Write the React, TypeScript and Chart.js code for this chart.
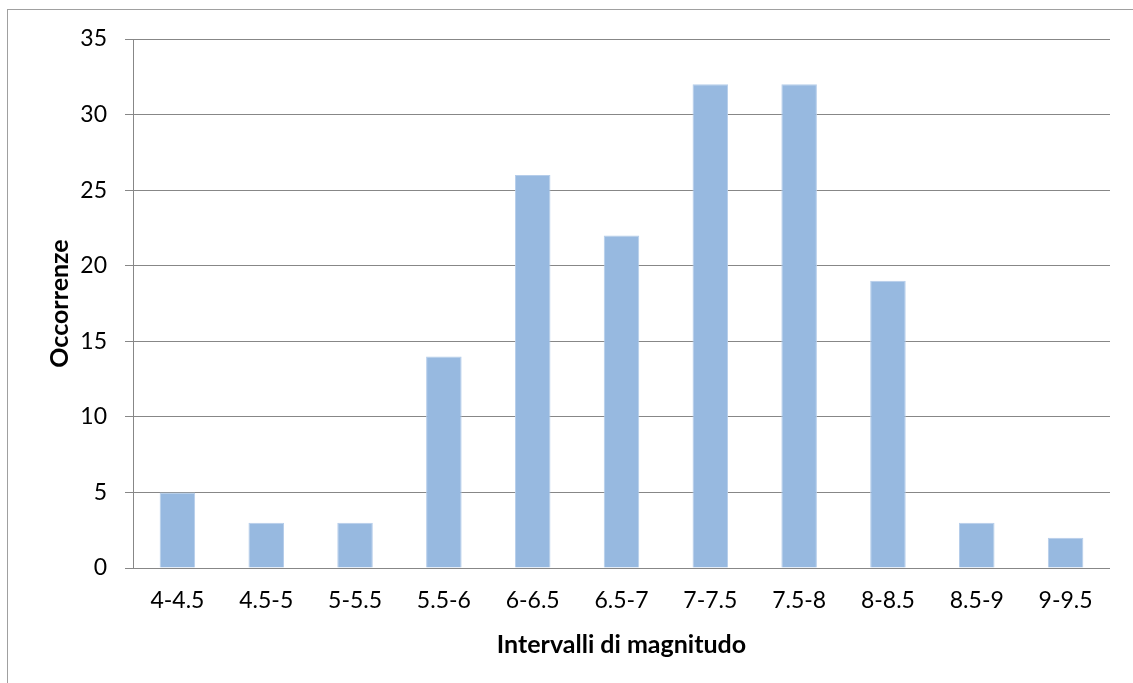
import React, { useEffect, useRef } from "react";
import { Chart, registerables } from "chart.js";

Chart.register(...registerables);

const categories = ["4-4.5", "4.5-5", "5-5.5", "5.5-6", "6-6.5", "6.5-7", "7-7.5", "7.5-8", "8-8.5", "8.5-9", "9-9.5"];
const occurrences = [5, 3, 3, 14, 26, 22, 32, 32, 19, 3, 2];
const yTicks = [0, 5, 10, 15, 20, 25, 30, 35];
const xTitle = "Intervalli di magnitudo";
const yTitle = "Occorrenze";

const FONT = "Lato, 'Open Sans', sans-serif";
const GRID = "#878787";

export default function App() {
  const ref = useRef<HTMLCanvasElement | null>(null);
  useEffect(() => {
    if (!ref.current) return;
    const chart = new Chart(ref.current, {
      type: "bar",
      data: {
        labels: categories,
        datasets: [
          {
            data: occurrences,
            backgroundColor: "#97B9E0",
            borderColor: "#B5CDEA",
            borderWidth: 1,
            categoryPercentage: 1,
            barPercentage: 0.4,
          },
        ],
      },
      options: {
        animation: false,
        responsive: false,
        layout: { padding: { left: 0, top: 29, right: 23, bottom: 0 } },
        plugins: { legend: { display: false }, tooltip: { enabled: false } },
        scales: {
          x: {
            grid: { display: false, drawTicks: false },
            border: { display: false },
            ticks: { color: "#000", font: { family: FONT, size: 23 }, padding: 19, maxRotation: 0 },
            title: { display: true, text: xTitle, color: "#000", font: { family: FONT, size: 25, weight: "bold" }, padding: { top: 0, bottom: 23 } },
            afterFit: (s: any) => { s.height = 115; },
          },
          y: {
            min: 0,
            max: 35,
            afterBuildTicks: (s: any) => { s.ticks = yTicks.map((v) => ({ value: v })); },
            grid: { color: GRID, lineWidth: 1, tickLength: 8, drawTicks: true, tickColor: GRID },
            border: { display: true, color: GRID, width: 1 },
            ticks: { color: "#000", font: { family: FONT, size: 23 }, padding: 18 },
            title: { display: true, text: yTitle, color: "#000", font: { family: FONT, size: 25, weight: "bold" }, padding: { top: 37, bottom: 0 } },
            afterFit: (s: any) => { s.width = 125; s.paddingTop = 0; s.paddingBottom = 0; },
          },
        },
      },
    });
    return () => chart.destroy();
  }, []);
  return (
    <div style={{ position: "absolute", left: 7, top: 9, width: 1126, height: 674, borderLeft: "1px solid #A0A0A0", borderTop: "1px solid #A0A0A0" }}>
      <canvas ref={ref} width={1125} height={673} style={{ display: "block", width: 1125, height: 673 }} />
    </div>
  );
}
